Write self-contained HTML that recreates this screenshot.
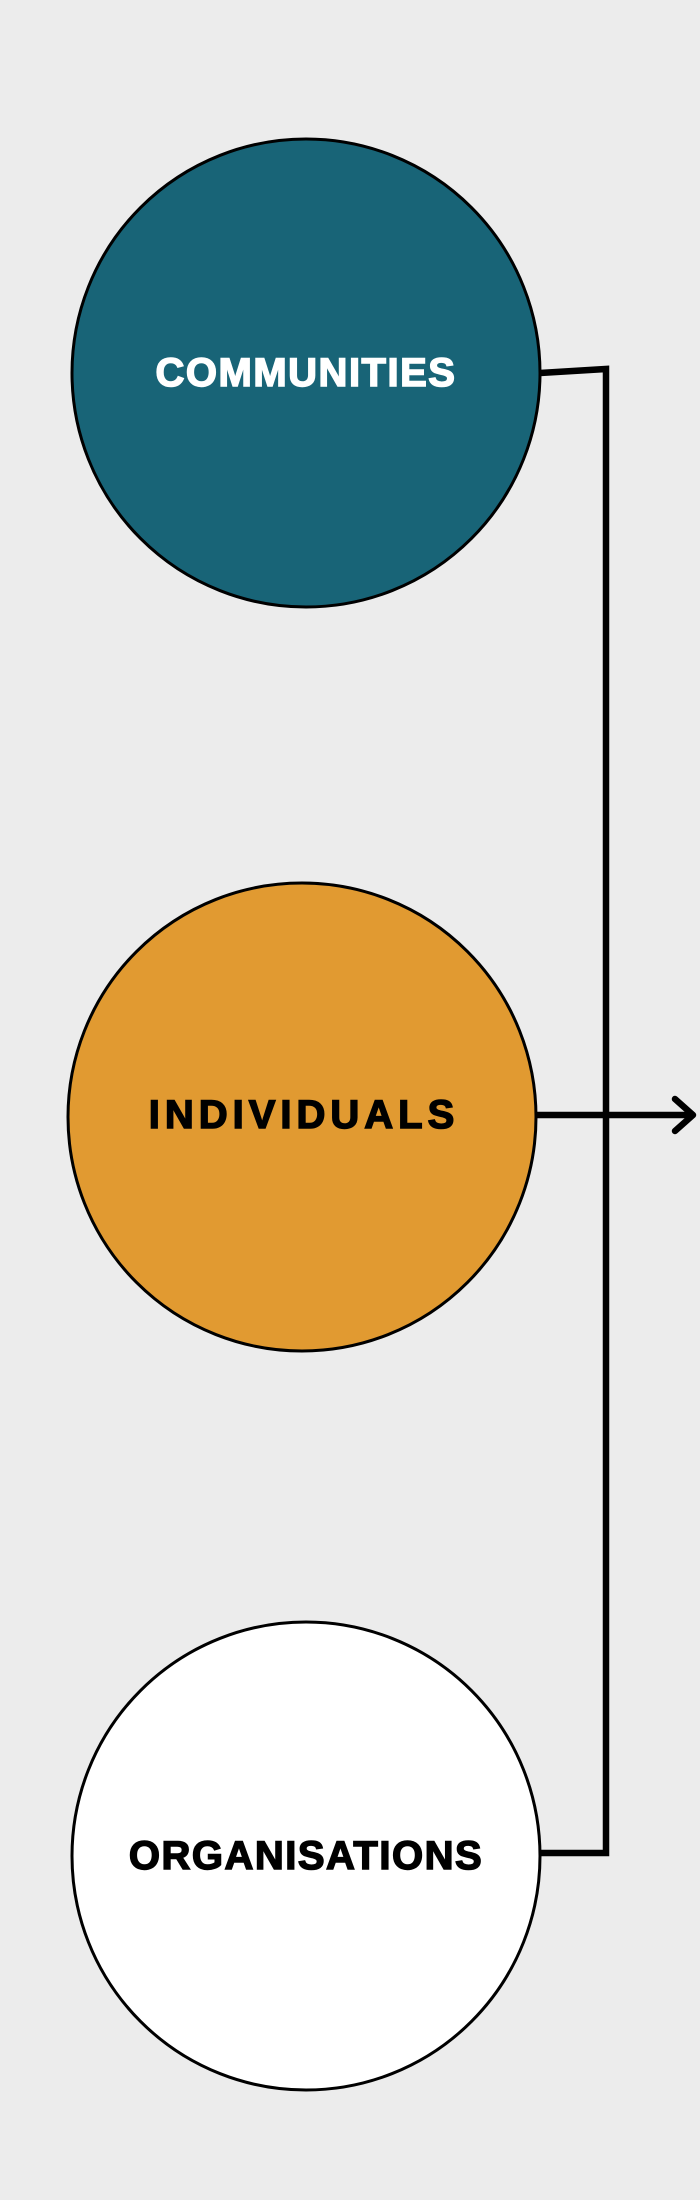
<!DOCTYPE html>
<html><head><meta charset="utf-8"><style>
html,body{margin:0;padding:0;background:#ececec;}
svg{display:block}
text{font-family:"Liberation Sans",sans-serif;font-weight:bold;font-size:40px;letter-spacing:1.5px;text-anchor:middle;dominant-baseline:central;stroke-width:1.5px}
</style></head><body>
<svg width="700" height="2200" viewBox="0 0 700 2200">
<rect width="700" height="2200" fill="#ececec"/>
<circle cx="306" cy="373" r="234" fill="#186477" stroke="#000" stroke-width="3"/>
<circle cx="302" cy="1117" r="234" fill="#e19a31" stroke="#000" stroke-width="3"/>
<circle cx="306" cy="1856" r="234" fill="#ffffff" stroke="#000" stroke-width="3"/>
<text x="306" y="373" fill="#fff" stroke="#fff">COMMUNITIES</text>
<text x="304" y="1115" fill="#000" stroke="#000" style="letter-spacing:5px">INDIVIDUALS</text>
<text x="306" y="1856" fill="#000" stroke="#000">ORGANISATIONS</text>
<g stroke="#000" stroke-width="6.5" fill="none">
<polyline points="540,373 606,369 606,1853 540,1853"/>
<line x1="537" y1="1115" x2="694" y2="1115"/>
<polyline points="675,1099 693,1115 675,1131" stroke-linecap="round" stroke-linejoin="round"/>
</g>
</svg>
</body></html>
